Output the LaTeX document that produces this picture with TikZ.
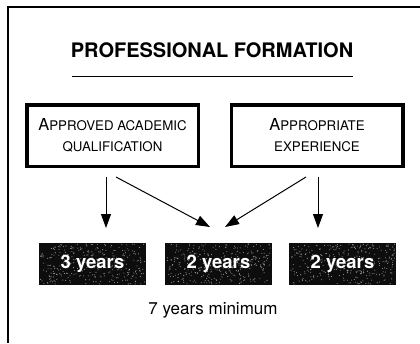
\documentclass[tikz,border=0pt]{standalone}
\usepackage{fontspec}
\setmainfont{TeX Gyre Heros}
\usetikzlibrary{arrows.meta}
\tikzset{
  frameline/.style={line width=1.2pt, black},
  qualbox/.style={draw=black, line width=3.5pt, minimum width=171.5pt, minimum height=61.5pt, align=center, inner sep=0pt, font=\fontsize{13.3}{21}\selectfont},
  yearbox/.style={fill=black!95, minimum width=107pt, minimum height=42pt, inner sep=0pt, text=white, font=\fontsize{18.5}{20}\selectfont\bfseries},
  speck/.style={fill=white, opacity=0.55},
  flow/.style={line width=1pt, -{Triangle[length=14pt,width=10pt]}}
}
\newcommand{\myCapA}[1]{{\fontsize{16.5}{21}\selectfont #1}}
\newcommand{\mySpeckle}[1]{%
  \begin{scope}[shift={(#1.center)}]
    \foreach \i in {1,...,320} {\fill[speck] ({rand*52},{rand*20}) circle (0.55pt);}
  \end{scope}}
\begin{document}
\begin{tikzpicture}[x=1pt,y=-1pt]
\useasboundingbox (0,0) rectangle (420,343);
\pgfmathsetseed{7}
% frame
\coordinate (fa) at (420,7);
\coordinate (fb) at (8,7);
\coordinate (fc) at (8,343);
\draw[frameline] (fa) -- (fb) -- (fc);
% title
\node (title) at (212,50) {\fontsize{20}{22}\selectfont\bfseries PROFESSIONAL FORMATION};
\coordinate (ula) at (72,76);
\coordinate (ulb) at (353,76);
\draw[line width=1pt] (ula) -- (ulb);
% boxes
\node[qualbox] (acad) at (112.5,135.5) {\myCapA{A}PPROVED ACADEMIC\\QUALIFICATION};
\node[qualbox] (exp) at (317,135.5) {\myCapA{A}PPROPRIATE\\EXPERIENCE};
% year boxes
\node[yearbox] (y1) at (92.5,264) {};
\node[yearbox] (y2) at (218.5,264) {};
\node[yearbox] (y3) at (342.5,264) {};
\mySpeckle{y1}
\mySpeckle{y2}
\mySpeckle{y3}
\node[yearbox, fill=none] (t1) at (y1.center) {3 years};
\node[yearbox, fill=none] (t2) at (y2.center) {2 years};
\node[yearbox, fill=none] (t3) at (y3.center) {2 years};
% arrows
\coordinate (a1s) at (106,177);
\coordinate (a1e) at (106,228);
\coordinate (a2s) at (116,177);
\coordinate (a2e) at (210,227);
\coordinate (a3s) at (306,177);
\coordinate (a3e) at (225,227);
\coordinate (a4s) at (318,177);
\coordinate (a4e) at (318,228);
\draw[flow] (a1s) -- (a1e);
\draw[flow] (a2s) -- (a2e);
\draw[flow] (a3s) -- (a3e);
\draw[flow] (a4s) -- (a4e);
% total
\node (total) at (213,310) {\fontsize{17}{20}\selectfont 7 years minimum};
\end{tikzpicture}
\end{document}
